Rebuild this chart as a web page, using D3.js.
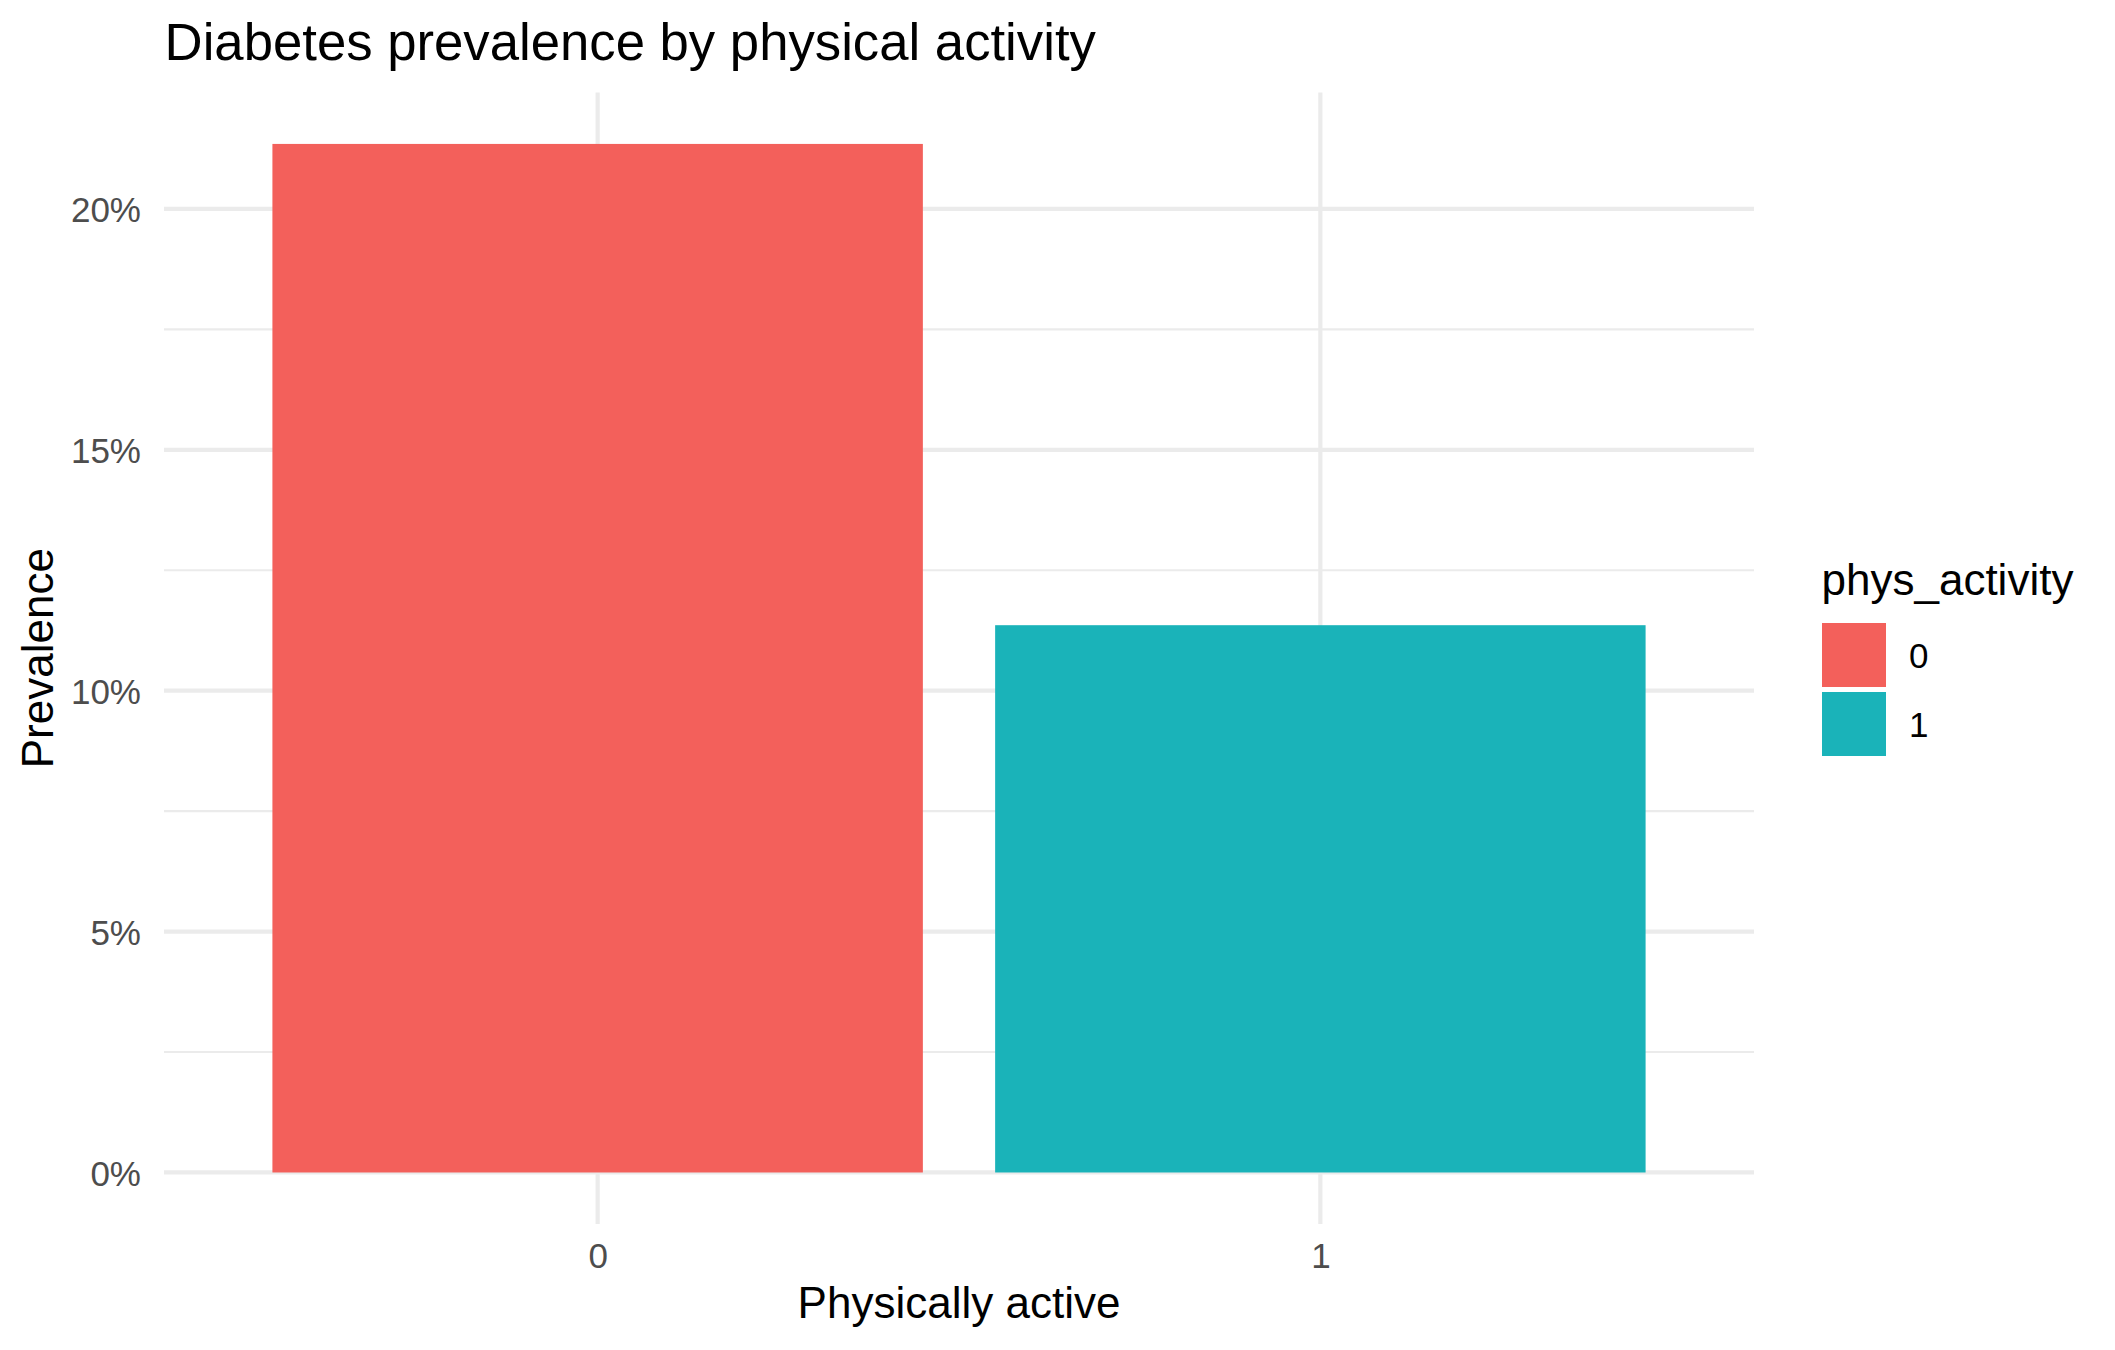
<!DOCTYPE html>
<html>
<head>
<meta charset="utf-8">
<script src="https://cdn.jsdelivr.net/npm/d3@7"></script>
<style>
  html, body { margin: 0; padding: 0; background: #ffffff; }
  svg { display: block; }
  text { font-family: "Liberation Sans", Arial, Helvetica, sans-serif; }
</style>
</head>
<body>
<svg id="chart" width="2115" height="1350"></svg>
<script>
// ---- Data ----
const categories = ["0", "1"];
const prevalence = [21.35, 11.36];           // percent
const yMajorTicks = [0, 5, 10, 15, 20];
const yMinorTicks = [2.5, 7.5, 12.5, 17.5];
const yTickLabels = ["0%", "5%", "10%", "15%", "20%"];
const legendTitle = "phys_activity";
const chartTitle = "Diabetes prevalence by physical activity";
const xTitle = "Physically active";
const yTitle = "Prevalence";
const fillColors = ["#F3605B", "#1AB3B9"];

// ---- Layout ----
const panel = { left: 164, right: 1754 };
const yMaxData = d3.max(prevalence);
const yExp = yMaxData * 0.05;

const svg = d3.select("#chart");

const x = d3.scaleLinear().domain([0.4, categories.length + 0.6]).range([panel.left, panel.right]);
const y = d3.scaleLinear().domain([-yExp, yMaxData + yExp]).range([1223.9, 92.5]);
const color = d3.scaleOrdinal().domain(categories).range(fillColors);

const gridColor = "#EBEBEB";
const majorW = 4.2, minorW = 2.1;

// minor grid
svg.append("g").selectAll("line").data(yMinorTicks).join("line")
  .attr("x1", panel.left).attr("x2", panel.right)
  .attr("y1", d => y(d)).attr("y2", d => y(d))
  .attr("stroke", gridColor).attr("stroke-width", minorW);

// major y grid
svg.append("g").selectAll("line").data(yMajorTicks).join("line")
  .attr("x1", panel.left).attr("x2", panel.right)
  .attr("y1", d => y(d)).attr("y2", d => y(d))
  .attr("stroke", gridColor).attr("stroke-width", majorW);

// major x grid
svg.append("g").selectAll("line").data(categories).join("line")
  .attr("x1", (d, i) => x(i + 1)).attr("x2", (d, i) => x(i + 1))
  .attr("y1", y.range()[0]).attr("y2", y.range()[1])
  .attr("stroke", gridColor).attr("stroke-width", majorW);

// bars
const barW = x(1.45) - x(0.55);
svg.append("g").selectAll("rect").data(categories).join("rect")
  .attr("x", (d, i) => x(i + 1) - barW / 2)
  .attr("width", barW)
  .attr("y", (d, i) => y(prevalence[i]))
  .attr("height", (d, i) => y(0) - y(prevalence[i]))
  .attr("fill", d => color(d));

// y axis labels
const yAxis = d3.axisLeft(y).tickValues(yMajorTicks)
  .tickFormat((d, i) => yTickLabels[i]).tickSize(0).tickPadding(0);
const gy = svg.append("g").attr("transform", `translate(141,0)`).call(yAxis);
gy.select(".domain").remove();
gy.selectAll("text").attr("font-size", 35).attr("fill", "#4D4D4D")
  .attr("font-family", '"Liberation Sans", Arial, sans-serif')
  .attr("dy", "0.36em");

// x axis labels
const xPos = d3.scaleOrdinal().domain(categories).range(categories.map((c, i) => x(i + 1)));
const xAxis = d3.axisBottom(d3.scalePoint().domain(categories).range([x(1), x(categories.length)]))
  .tickSize(0).tickPadding(0);
const gx = svg.append("g").attr("transform", `translate(0,1243)`).call(xAxis);
gx.select(".domain").remove();
gx.selectAll("text").attr("font-size", 35).attr("fill", "#4D4D4D")
  .attr("font-family", '"Liberation Sans", Arial, sans-serif')
  .attr("dy", "0.71em");

// titles
svg.append("text").attr("x", 164.6).attr("y", 60)
  .attr("font-size", 52.7).attr("fill", "#000").text(chartTitle);

svg.append("text").attr("x", (panel.left + panel.right) / 2).attr("y", 1318)
  .attr("text-anchor", "middle").attr("font-size", 44).attr("fill", "#000").text(xTitle);

svg.append("text")
  .attr("transform", `translate(53.3,${(y.range()[0] + y.range()[1]) / 2}) rotate(-90)`)
  .attr("text-anchor", "middle").attr("font-size", 44).attr("fill", "#000").text(yTitle);

// legend
const lg = svg.append("g");
lg.append("text").attr("x", 1821.5).attr("y", 595)
  .attr("font-size", 44).attr("fill", "#000").text(legendTitle);
const keyY = [623, 692];
lg.selectAll("rect").data(categories).join("rect")
  .attr("x", 1822).attr("y", (d, i) => keyY[i])
  .attr("width", 64).attr("height", 64)
  .attr("fill", d => color(d));
lg.selectAll("text.lab").data(categories).join("text").attr("class", "lab")
  .attr("x", 1909).attr("y", (d, i) => keyY[i] + 32)
  .attr("dy", "0.36em")
  .attr("font-size", 35).attr("fill", "#000").text(d => d);
</script>
</body>
</html>
